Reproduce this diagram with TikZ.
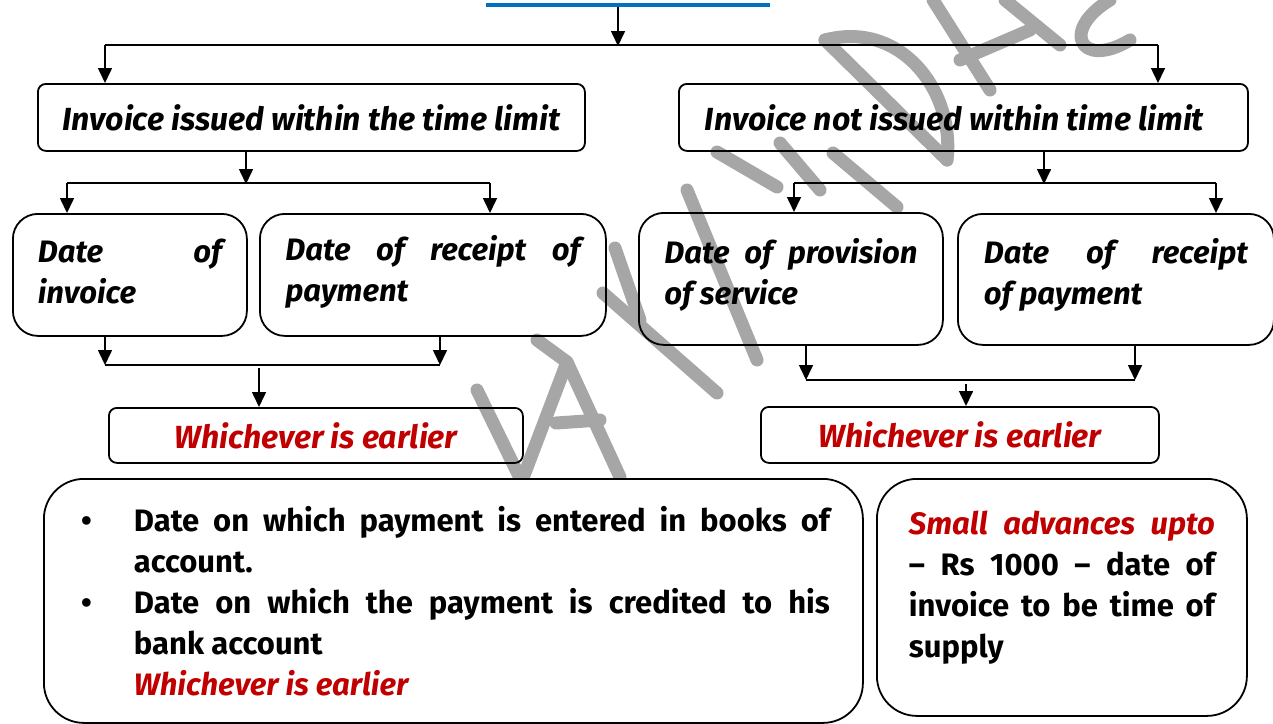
\documentclass[tikz,border=0pt]{standalone}
\usepackage{fontspec}
\setmainfont{Fira Sans}
\usetikzlibrary{arrows.meta}
\definecolor{wred}{HTML}{C00000}
\definecolor{wblue}{HTML}{0070C0}
\definecolor{wmark}{HTML}{A6A6A6}
\newcommand\hdfont{\fontsize{32}{41}\selectfont\bfseries\itshape}
\newcommand\bxfont{\fontsize{31}{41}\selectfont\bfseries\itshape}
\newcommand\plfont{\fontsize{31}{41}\selectfont\bfseries}
% extra room below the last line of a card, so its text sits higher
\newcommand\liftby[1]{\par\nointerlineskip\vspace{#1}\hbox{}}
\begin{document}
\begin{tikzpicture}[x=1pt,y=-1pt,
  wm/.style={draw=wmark,line width=13pt,line cap=round,line join=round},
  card/.style={draw,line width=1.8pt,anchor=north west,inner ysep=0pt,align=justify,font=\bxfont},
  tag/.style={draw,line width=1.8pt,anchor=north west,inner sep=0pt,align=center,rounded corners=8pt,font=\hdfont},
  arr/.style={line width=1.6pt,-{Triangle[width=14pt,length=15pt]}},
  bus/.style={line width=1.6pt}]
\useasboundingbox (0,0) rectangle (1273,723);

% watermark strokes, behind everything
\begin{scope}
\clip (0,0) rectangle (1273,478);
\draw[wm] (477,390) -- (520,478);
\draw[wm] (537,340) -- (567,362) -- (523,478);
\draw[wm] (567,362) -- (620,477);
\draw[wm] (556,423) -- (600,420);
\draw[wm] (603,293) -- (717,393);
\draw[wm] (687,190) -- (757,360);
\draw[wm] (615,248) -- (640,320);
\draw[wm] (717,152) -- (777,187);
\draw[wm] (833,153) -- (897,207);
\draw[wm] (780,143) -- (820,190);
\draw[wm] (825,40) -- (947,160);
\draw[wm] (825,40) .. controls (900,20) and (955,90) .. (947,160);
\draw[wm] (933,0) -- (990,90);
\draw[wm] (1005,0) -- (1060,45);
\draw[wm] (960,60) -- (1030,30);
\draw[wm] (1110,0) .. controls (1060,30) and (1080,70) .. (1130,40);
\end{scope}

% title underline
\node (title) [fill=wblue,inner sep=0pt,minimum width=284pt,minimum height=4pt] at (628,4.5) {};

% first level
\node (A) [tag,minimum width=547pt,minimum height=67pt] at (37,83) {Invoice issued within the time limit};
\node (B) [tag,minimum width=569pt,minimum height=67pt] at (678,83) {Invoice not issued within time limit\hspace{18pt}};

% second level
\node (C) [card,rounded corners=25pt,inner xsep=25pt,text width=184pt,minimum height=122pt] at (12,213)
  {Date of\linebreak invoice\liftby{6pt}};
\node (D) [card,rounded corners=25pt,inner xsep=25.5pt,text width=295pt,minimum height=122pt] at (259,213)
  {Date of receipt of\linebreak payment\liftby{6pt}};
\node (E) [card,rounded corners=25pt,inner xsep=25.5pt,text width=253pt,minimum height=132pt] at (638,212)
  {Date of provision\linebreak of service\liftby{9pt}};
\node (F) [card,rounded corners=25pt,inner xsep=26pt,text width=264pt,minimum height=131pt] at (957,213)
  {Date of receipt\linebreak of payment\liftby{9pt}};

% results
\node (G) [tag,minimum width=414pt,minimum height=55pt,text=wred] at (108,407) {Whichever is earlier};
\node (H) [tag,minimum width=398pt,minimum height=56pt,text=wred] at (760,406) {Whichever is earlier};

% bottom notes
\node (I) [card,rounded corners=40pt,inner xsep=33pt,text width=753pt,minimum height=244pt,font=\plfont] at (43,478)
  {\leftskip=57pt\parindent=0pt
   \noindent\llap{\textbullet\hspace{42pt}}Date on which payment is entered in books of\linebreak account.\par
   \noindent\llap{\textbullet\hspace{42pt}}Date on which the payment is credited to his\linebreak bank account\par
   \noindent{\color{wred}\itshape Whichever is earlier}\par};
\node (J) [card,rounded corners=40pt,inner xsep=32pt,text width=306pt,minimum height=237pt,font=\plfont] at (876,478)
  {\parindent=0pt{\color{wred}\itshape Small advances upto}\linebreak
   -- Rs 1000 -- date of\linebreak invoice to be time of\linebreak supply\liftby{20pt}};

% bus lines and arrows, top
\coordinate (t0) at (618,45);
\coordinate (tl) at (105,45);
\coordinate (tr) at (1158,45);
\draw[arr] (t0 |- title.south) -- ([yshift=-1pt]t0);
\draw[bus] (tl) -- (tr);
\draw[arr] (tl) -- (tl |- A.north);
\draw[arr] (tr) -- (tr |- B.north);

% left branch
\coordinate (l0) at (246,183);
\coordinate (ll) at (67,183);
\coordinate (lr) at (490,183);
\draw[arr] (l0 |- A.south) -- ([yshift=-1pt]l0);
\draw[bus] (ll) -- (lr);
\draw[arr] (ll) -- (ll |- C.north);
\draw[arr] (lr) -- (lr |- D.north);

% right branch
\coordinate (r0) at (1044,183);
\coordinate (rl) at (794,183);
\coordinate (rr) at (1216,183);
\draw[arr] (r0 |- B.south) -- ([yshift=-1pt]r0);
\draw[bus] (rl) -- (rr);
\draw[arr] (rl) -- (rl |- E.north);
\draw[arr] (rr) -- (rr |- F.north);

% merge into the left result
\coordinate (gl) at (105,365);
\coordinate (gr) at (440,365);
\coordinate (g0) at (259,368);
\draw[arr] (gl |- C.south) -- (gl);
\draw[arr] (gr |- D.south) -- (gr);
\draw[bus] (gl) -- (gr);
\draw[arr] (g0) -- (g0 |- G.north);

% merge into the right result
\coordinate (hl) at (806,380);
\coordinate (hr) at (1135,380);
\coordinate (h0) at (966,384);
\draw[arr] (hl |- E.south) -- (hl);
\draw[arr] (hr |- F.south) -- (hr);
\draw[bus] (hl) -- (hr);
\draw[arr] (h0) -- (h0 |- H.north);
\end{tikzpicture}
\end{document}
